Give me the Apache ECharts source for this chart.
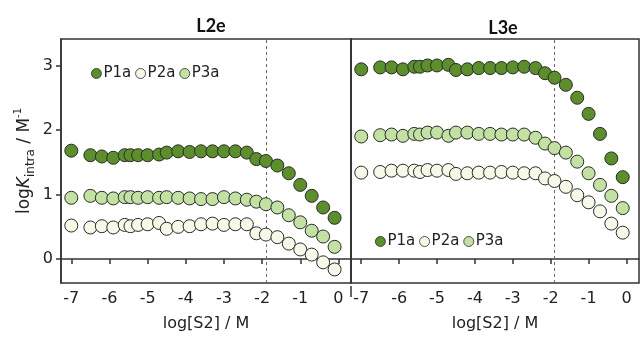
<!DOCTYPE html>
<html>
<head>
<meta charset="utf-8">
<script src="https://cdn.jsdelivr.net/npm/echarts@6/dist/echarts.min.js"></script>
<style>
  html, body { margin: 0; padding: 0; background: #fff; }
  #chart { width: 640px; height: 337px; }
</style>
</head>
<body>
<div id="chart"></div>
<script>
// log[S2] / M
const logS2 = [-7.0, -6.5, -6.2, -5.9, -5.6, -5.45, -5.25, -5.0, -4.7, -4.5, -4.2, -3.9, -3.6, -3.3, -3.0, -2.7, -2.4, -2.15, -1.9, -1.6, -1.3, -1.0, -0.7, -0.4, -0.1];

// L2e panel
const l2eP1a = [1.68, 1.61, 1.59, 1.57, 1.61, 1.61, 1.61, 1.61, 1.62, 1.65, 1.67, 1.66, 1.67, 1.67, 1.67, 1.67, 1.65, 1.55, 1.52, 1.45, 1.33, 1.15, 0.98, 0.80, 0.64];
const l2eP2a = [0.52, 0.49, 0.51, 0.49, 0.53, 0.51, 0.53, 0.54, 0.56, 0.47, 0.50, 0.51, 0.54, 0.55, 0.53, 0.54, 0.54, 0.40, 0.38, 0.34, 0.24, 0.15, 0.07, -0.05, -0.16];
const l2eP3a = [0.95, 0.98, 0.95, 0.94, 0.96, 0.96, 0.95, 0.96, 0.95, 0.96, 0.95, 0.94, 0.93, 0.93, 0.96, 0.94, 0.92, 0.89, 0.85, 0.80, 0.68, 0.57, 0.44, 0.35, 0.19];

// L3e panel
const l3eP1a = [2.94, 2.97, 2.97, 2.94, 2.98, 2.98, 3.00, 3.00, 3.01, 2.93, 2.94, 2.96, 2.96, 2.96, 2.97, 2.98, 2.96, 2.88, 2.81, 2.70, 2.50, 2.25, 1.94, 1.56, 1.27];
const l3eP2a = [1.34, 1.35, 1.37, 1.37, 1.37, 1.35, 1.38, 1.37, 1.38, 1.32, 1.33, 1.34, 1.34, 1.35, 1.34, 1.33, 1.33, 1.25, 1.21, 1.12, 0.99, 0.88, 0.74, 0.55, 0.41];
const l3eP3a = [1.90, 1.92, 1.93, 1.91, 1.94, 1.93, 1.96, 1.96, 1.91, 1.96, 1.96, 1.94, 1.94, 1.93, 1.93, 1.93, 1.88, 1.79, 1.72, 1.65, 1.51, 1.33, 1.15, 0.98, 0.79];

const panelTitles = ['L2e', 'L3e'];
const seriesNames = ['P1a', 'P2a', 'P3a'];
const xTicks = [-7, -6, -5, -4, -3, -2, -1, 0];
const yTicks = [0, 1, 2, 3];
const dashedAt = -1.9;

const colors = { P1a: '#5d8e2c', P2a: '#f4f9e8', P3a: '#c4e1a4' };
const font = 'DejaVu Sans';
const axisColor = '#333';

const chart = echarts.init(document.getElementById('chart'));

const pairs = (ys) => ys.map((y, i) => [logS2[i], y]);

function makeSeries(name, ys, idx) {
  const s = {
    name: name,
    type: 'scatter',
    xAxisIndex: idx,
    yAxisIndex: idx,
    data: pairs(ys),
    symbol: 'circle',
    symbolSize: 13,
    itemStyle: { color: colors[name], borderColor: '#2a2a2a', borderWidth: 1, opacity: 1 },
    emphasis: { disabled: true }
  };
  if (name === 'P1a') {
    s.markLine = {
      silent: true,
      symbol: 'none',
      label: { show: false },
      lineStyle: { type: [3, 3], color: '#6a6a6a', width: 1 },
      data: [{ xAxis: dashedAt }],
      z: 1
    };
  }
  return s;
}

const xAxisBase = (idx) => ({
  gridIndex: idx,
  type: 'value',
  min: -7.27,
  max: 0.33,
  name: 'log[S2] / M',
  nameLocation: 'middle',
  nameGap: 33,
  nameTextStyle: { fontFamily: font, fontSize: 16, color: '#222' },
  axisLine: { show: true, lineStyle: { color: axisColor, width: 1.5 } },
  axisTick: { show: true, customValues: xTicks, length: 5, inside: false, lineStyle: { color: axisColor, width: 1.5 } },
  axisLabel: { customValues: xTicks, fontFamily: font, fontSize: 16, color: '#222', margin: 8 },
  splitLine: { show: false }
});

const yAxisBase = (idx) => ({
  gridIndex: idx,
  type: 'value',
  min: -0.37,
  max: 3.41,
  axisLine: { show: true, onZero: false, lineStyle: { color: axisColor, width: 1.5 } },
  axisTick: { show: idx === 0, customValues: yTicks, length: 5, lineStyle: { color: axisColor, width: 1.5 } },
  axisLabel: { show: idx === 0, customValues: yTicks, fontFamily: font, fontSize: 16, color: '#222', margin: 8 },
  splitLine: { show: false }
});

const yAxes = [yAxisBase(0), yAxisBase(1)];
yAxes[0].name = '{a|log}{i|K}{s|intra}{a| / M}{p|-1}';
yAxes[0].nameLocation = 'middle';
yAxes[0].nameGap = 24;
yAxes[0].nameTextStyle = {
  rich: {
    a: { fontFamily: font, fontSize: 17, color: '#222', lineHeight: 24, verticalAlign: 'middle' },
    i: { fontFamily: font, fontSize: 17, fontStyle: 'italic', color: '#222', lineHeight: 24, verticalAlign: 'middle' },
    s: { fontFamily: font, fontSize: 12, color: '#222', lineHeight: 12, verticalAlign: 'bottom' },
    p: { fontFamily: font, fontSize: 10, color: '#222', lineHeight: 11, verticalAlign: 'top' }
  }
};

const legendBase = {
  orient: 'horizontal',
  icon: 'circle',
  itemWidth: 10,
  itemHeight: 10,
  itemGap: 4,
  itemStyle: { borderWidth: 0.8, borderColor: '#2a2a2a' },
  textStyle: { fontFamily: font, fontSize: 15, color: '#222', padding: [0, 0, 0, -3] },
  selectedMode: false,
  data: seriesNames
};

const option = {
  backgroundColor: '#fff',
  animation: false,
  title: [
    { text: panelTitles[0], left: 206, top: 12, textAlign: 'center',
      textStyle: { fontFamily: 'Lato', fontWeight: 'bold', fontSize: 18, color: '#111' } },
    { text: panelTitles[1], left: 498, top: 14, textAlign: 'center',
      textStyle: { fontFamily: 'Lato', fontWeight: 'bold', fontSize: 18, color: '#111' } }
  ],
  grid: [
    { left: 61, top: 39, width: 290, height: 247, show: true, borderColor: axisColor, borderWidth: 1.5, backgroundColor: 'transparent' },
    { left: 351, top: 39, width: 288, height: 247, show: true, borderColor: axisColor, borderWidth: 1.5, backgroundColor: 'transparent' }
  ],
  xAxis: [xAxisBase(0), xAxisBase(1)],
  yAxis: yAxes,
  legend: [
    Object.assign({}, legendBase, { left: 86, top: 61 }),
    Object.assign({}, legendBase, { left: 370, top: 229 })
  ],
  graphic: [
    { type: 'line', shape: { x1: 351, y1: 286, x2: 351, y2: 297 }, style: { stroke: axisColor, lineWidth: 1.5 } }
  ],
  series: [
    makeSeries('P1a', l2eP1a, 0),
    makeSeries('P2a', l2eP2a, 0),
    makeSeries('P3a', l2eP3a, 0),
    makeSeries('P1a', l3eP1a, 1),
    makeSeries('P2a', l3eP2a, 1),
    makeSeries('P3a', l3eP3a, 1)
  ]
};

chart.setOption(option);
</script>
</body>
</html>
